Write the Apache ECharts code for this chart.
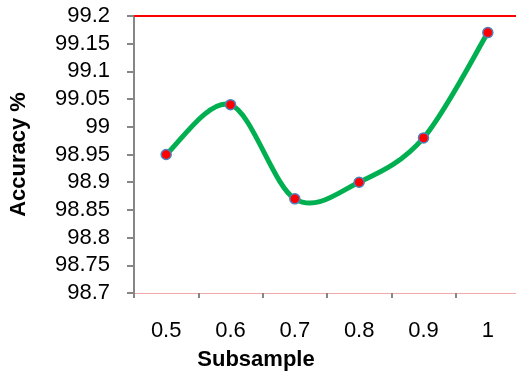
<!DOCTYPE html>
<html><head><meta charset="utf-8">
<script src="https://cdn.jsdelivr.net/npm/echarts@6/dist/echarts.min.js"></script>
<style>html,body{margin:0;padding:0;background:#fff}#c{width:516px;height:377px}</style>
</head><body><div id="c"></div>
<script>
const categories = ['0.5', '0.6', '0.7', '0.8', '0.9', '1'];
const accuracy = [98.95, 99.04, 98.87, 98.90, 98.98, 99.17];
const yMin = 98.7, yMax = 99.2, yStep = 0.05;
const refLine = 99.2;

const chart = echarts.init(document.getElementById('c'));
const font = "'Liberation Sans', Arial, sans-serif";

// Smoothed segment (Catmull-Rom style Bezier, like spreadsheet smoothing), in pixel space via the axes
function renderSegment(params, api) {
  const i = params.dataIndex;
  const n = accuracy.length;
  if (i >= n - 1) return null;
  const P = k => {
    const j = Math.max(0, Math.min(n - 1, k));
    return api.coord([j, accuracy[j]]);
  };
  const p0 = P(i - 1), p1 = P(i), p2 = P(i + 1), p3 = P(i + 2);
  return {
    type: 'bezierCurve',
    shape: {
      x1: p1[0], y1: p1[1], x2: p2[0], y2: p2[1],
      cpx1: p1[0] + (p2[0] - p0[0]) / 6, cpy1: p1[1] + (p2[1] - p0[1]) / 6,
      cpx2: p2[0] - (p3[0] - p1[0]) / 6, cpy2: p2[1] - (p3[1] - p1[1]) / 6
    },
    style: { stroke: '#00b050', lineWidth: 5, fill: null, lineCap: 'round' }
  };
}

chart.setOption({
  animation: false,
  grid: { left: 134, top: 16, width: 386, bottom: 84, containLabel: false, outerBoundsMode: 'none' },
  xAxis: {
    type: 'category', data: categories, boundaryGap: true,
    name: 'Subsample', nameLocation: 'middle', nameGap: 56,
    nameTextStyle: { fontFamily: font, fontSize: 22, fontWeight: 'bold', color: '#000', padding: [0, 142, 0, 0] },
    axisLine: { lineStyle: { color: '#f2a9a9', width: 1 } },
    axisTick: { show: true, length: 5, lineStyle: { color: '#868686', width: 2 } },
    axisLabel: { fontFamily: font, fontSize: 22, color: '#000', margin: 27 },
    splitLine: { show: false }
  },
  yAxis: {
    type: 'value', min: yMin, max: yMax, interval: yStep,
    name: 'Accuracy %', nameLocation: 'middle', nameGap: 104, nameRotate: 90,
    nameTextStyle: { fontFamily: font, fontSize: 22, fontWeight: 'bold', color: '#000' },
    axisLine: { show: true, lineStyle: { color: '#868686', width: 2 } },
    axisTick: { show: true, length: 7, lineStyle: { color: '#868686', width: 2 } },
    axisLabel: { fontFamily: font, fontSize: 22, color: '#000', margin: 24,
      formatter: v => String(+v.toFixed(2)) },
    splitLine: { show: false }
  },
  series: [{
    type: 'custom',
    data: accuracy.map((v, i) => [i, v]),
    renderItem: renderSegment,
    silent: true,
    z: 2
  }, {
    type: 'line', data: accuracy,
    lineStyle: { width: 0, opacity: 0 },
    symbol: 'circle', symbolSize: 10,
    itemStyle: { color: '#ff0000', borderColor: '#4f81bd', borderWidth: 1.5 },
    markLine: {
      silent: true, symbol: ['none', 'none'], label: { show: false },
      lineStyle: { color: '#ff0000', width: 2, type: 'solid' },
      data: [{ yAxis: refLine }]
    },
    z: 3
  }]
});
</script></body></html>
